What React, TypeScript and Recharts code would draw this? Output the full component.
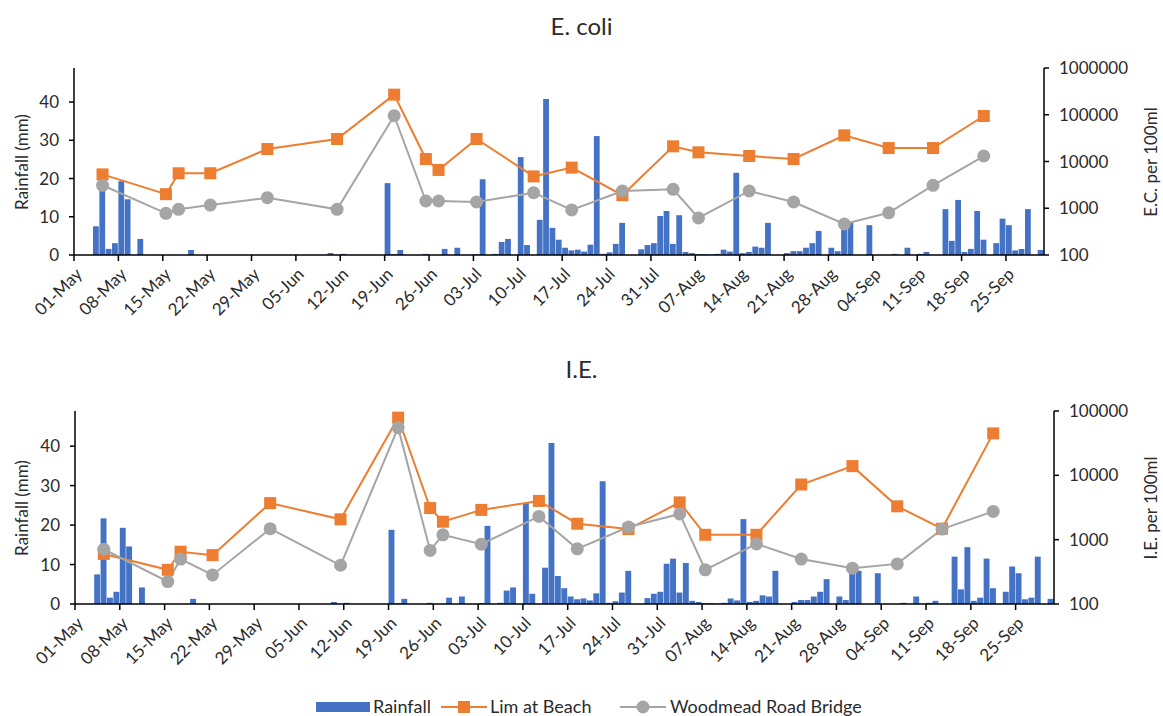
import { ComposedChart, Bar, Line, XAxis, YAxis } from "recharts";

// daily rainfall (mm), 01-May .. 30-Sep
const rainfall = [
  0, 0, 0, 7.5, 21.7, 1.6, 3.1, 19.3, 14.6, 0, 4.2, 0, 0, 0, 0, 0, 0, 0, 1.3, 0,
  0, 0, 0, 0, 0, 0, 0, 0, 0, 0, 0, 0, 0, 0, 0, 0, 0, 0, 0, 0,
  0.5, 0, 0.3, 0, 0, 0, 0, 0, 0, 18.8, 0.2, 1.3, 0, 0, 0, 0.3, 0, 0, 1.6, 0,
  1.9, 0, 0, 0.2, 19.8, 0, 0.3, 3.4, 4.2, 0, 25.6, 2.6, 0, 9.2, 40.8, 7.1, 4.0, 1.9, 1.2, 1.4,
  0.9, 2.7, 31.1, 0.3, 0.7, 2.9, 8.4, 0, 0, 1.5, 2.6, 3.1, 10.2, 11.5, 2.9, 10.4, 0.8, 0.5, 0.2, 0.2,
  0.1, 0.3, 1.4, 0.9, 21.5, 0.5, 0.8, 2.2, 1.9, 8.4, 0, 0, 0.5, 1.0, 1.0, 1.9, 3.1, 6.3, 0, 1.9,
  1.0, 8.4, 8.4, 0, 0, 7.8, 0, 0, 0, 0.3, 0, 1.9, 0, 0.3, 0.8, 0, 0, 12.0, 3.7, 14.4,
  0.8, 1.6, 11.5, 4.0, 0, 3.1, 9.5, 7.8, 1.2, 1.6, 12.0, 0, 1.3,
];

const sampleDates = [
  "05-May", "15-May", "17-May", "22-May", "31-May", "11-Jun", "20-Jun", "25-Jun", "27-Jun",
  "03-Jul", "12-Jul", "18-Jul", "26-Jul", "03-Aug", "07-Aug", "15-Aug", "22-Aug", "30-Aug",
  "06-Sep", "13-Sep", "21-Sep",
];

const ecoliLim = [5300, 2000, 5600, 5600, 18500, 30300, 269000, 11300, 6600, 30300, 4800, 7400, 1900, 21100, 15700, 13100, 11300, 36300, 19400, 19400, 94000];
const ecoliWood = [3100, 780, 950, 1170, 1680, 950, 95500, 1430, 1430, 1360, 2150, 920, 2340, 2540, 620, 2340, 1360, 460, 800, 3100, 13100];
const ieLim = [600, 340, 650, 575, 3700, 2070, 78800, 3100, 1900, 2900, 4000, 1770, 1460, 3800, 1190, 1190, 7200, 13900, 3300, 1480, 44900];
const ieWood = [710, 223, 500, 283, 1480, 400, 55100, 680, 1190, 850, 2300, 720, 1570, 2510, 340, 860, 500, 360, 420, 1460, 2750];

const tickLabels = [
  "01-May", "08-May", "15-May", "22-May", "29-May", "05-Jun", "12-Jun", "19-Jun", "26-Jun",
  "03-Jul", "10-Jul", "17-Jul", "24-Jul", "31-Jul", "07-Aug", "14-Aug", "21-Aug", "28-Aug",
  "04-Sep", "11-Sep", "18-Sep", "25-Sep",
];

const rainTicks = [0, 10, 20, 30, 40];

const BLUE = "#4472C4";
const ORANGE = "#ED7D31";
const GREY = "#A5A5A5";
const FONT = "Lato, 'Noto Sans', sans-serif";

const MONTH_START: Record<string, number> = { May: 0, Jun: 31, Jul: 61, Aug: 92, Sep: 123 };
const dayIndex = (label: string) => MONTH_START[label.slice(3)] + Number(label.slice(0, 2)) - 1;
const labelByDay: Record<number, string> = {};
tickLabels.forEach((l) => (labelByDay[dayIndex(l)] = l));

function buildRows(lim: number[], wood: number[]) {
  const rows = rainfall.map((r, i) => ({ x: i + 0.5, rain: r, lim: null as number | null, wood: null as number | null }));
  sampleDates.forEach((d, k) => {
    rows[dayIndex(d)].lim = lim[k];
    rows[dayIndex(d)].wood = wood[k];
  });
  return rows;
}

const DateTick = (props: any) => {
  const { x, y, payload } = props;
  const ax = x + 5;
  const ay = y + 10;
  return (
    <text x={ax} y={ay} dy="0.35em" textAnchor="end" fontSize={17} fill="#2b2b2b" fontFamily={FONT}
      transform={`rotate(-45 ${ax} ${ay})`}>
      {labelByDay[Math.round(payload.value)]}
    </text>
  );
};

const squareDot = (props: any) => {
  const { cx, cy, index } = props;
  if (cx == null || cy == null || props.value == null) return <g key={"s" + index} />;
  return <rect key={"s" + index} x={cx - 6} y={cy - 6} width={12} height={12} fill={ORANGE} />;
};

const circleDot = (props: any) => {
  const { cx, cy, index } = props;
  if (cx == null || cy == null || props.value == null) return <g key={"c" + index} />;
  return <circle key={"c" + index} cx={cx} cy={cy} r={6.5} fill={GREY} />;
};

interface PanelProps {
  top: number;
  title: string;
  titleTop: number;
  rightLabel: string;
  lim: number[];
  wood: number[];
  rightTicks: number[];
  marginTop: number;
  xHeight: number;
  leftWidth: number;
  rightWidth: number;
  barSize: number;
}

function Panel(p: PanelProps) {
  const rows = buildRows(p.lim, p.wood);
  const height = 340;
  const plotTop = p.top + p.marginTop;
  const plotBottom = p.top + height - p.xHeight;
  const midY = (plotTop + plotBottom) / 2;
  const axisProps = { stroke: "#000", strokeWidth: 1.5 };
  const tickStyle = { fontSize: 17, fill: "#2b2b2b", fontFamily: FONT };
  return (
    <>
      <div style={{ position: "absolute", left: 0, width: 1163, top: p.titleTop, textAlign: "center", fontSize: 24, color: "#2b2b2b", fontFamily: FONT }}>
        {p.title}
      </div>
      <div style={{ position: "absolute", left: 22 - 100, top: midY - 11, width: 200, height: 22, lineHeight: "22px", textAlign: "center", transform: "rotate(-90deg)", fontSize: 17, color: "#2b2b2b", fontFamily: FONT, whiteSpace: "nowrap" }}>
        Rainfall (mm)
      </div>
      <div style={{ position: "absolute", left: 1151 - 100, top: midY - 11, width: 200, height: 22, lineHeight: "22px", textAlign: "center", transform: "rotate(-90deg)", fontSize: 17, color: "#2b2b2b", fontFamily: FONT, whiteSpace: "nowrap" }}>
        {p.rightLabel}
      </div>
      <div style={{ position: "absolute", left: 0, top: p.top }}>
        <ComposedChart width={1163} height={height} data={rows} margin={{ top: p.marginTop, right: 0, bottom: 0, left: 0 }}>
          <XAxis xAxisId="b" dataKey="x" type="number" domain={[0, 153]} ticks={tickLabels.map(dayIndex)}
            interval={0} height={p.xHeight} tick={<DateTick />} tickSize={6} tickMargin={0}
            axisLine={axisProps} tickLine={axisProps} allowDataOverflow />
          <XAxis xAxisId="t" orientation="top" dataKey="x" type="number" domain={[0, 153]} height={0}
            tick={false} tickLine={false} axisLine={axisProps} />
          <YAxis yAxisId="l" domain={[0, 48.9]} ticks={rainTicks} width={p.leftWidth} interval={0}
            tickSize={5} tickMargin={10} axisLine={axisProps} tickLine={axisProps} allowDataOverflow
            tick={tickStyle} />
          <YAxis yAxisId="r" orientation="right" scale="log" domain={[p.rightTicks[0], p.rightTicks[p.rightTicks.length - 1]]}
            ticks={p.rightTicks} width={p.rightWidth} interval={0} tickSize={5} tickMargin={10}
            axisLine={axisProps} tickLine={axisProps} allowDataOverflow
            tick={tickStyle} />
          <Bar xAxisId="b" yAxisId="l" dataKey="rain" fill={BLUE} barSize={p.barSize} isAnimationActive={false} />
          <Line xAxisId="b" yAxisId="r" dataKey="lim" stroke={ORANGE} strokeWidth={2} connectNulls
            dot={squareDot} activeDot={false} isAnimationActive={false} />
          <Line xAxisId="b" yAxisId="r" dataKey="wood" stroke={GREY} strokeWidth={2} connectNulls
            dot={circleDot} activeDot={false} isAnimationActive={false} />
        </ComposedChart>
      </div>
    </>
  );
}

function LegendBar() {
  const text = { position: "absolute" as const, top: 695, fontSize: 18, color: "#2b2b2b", fontFamily: FONT, lineHeight: "22px", whiteSpace: "nowrap" as const };
  return (
    <>
      <svg style={{ position: "absolute", left: 0, top: 690 }} width={1163} height={26}>
        <rect x={316} y={12} width={54} height={10} fill={BLUE} />
        <line x1={441} x2={487} y1={17} y2={17} stroke={ORANGE} strokeWidth={2} />
        <rect x={458} y={11} width={12} height={12} fill={ORANGE} />
        <line x1={620} x2={666} y1={17} y2={17} stroke={GREY} strokeWidth={2} />
        <circle cx={643} cy={17} r={6.5} fill={GREY} />
      </svg>
      <div style={{ ...text, left: 373 }}>Rainfall</div>
      <div style={{ ...text, left: 490 }}>Lim at Beach</div>
      <div style={{ ...text, left: 670 }}>Woodmead Road Bridge</div>
    </>
  );
}

export default function App() {
  return (
    <div style={{ position: "absolute", left: 0, top: 0, width: 1163, height: 716, background: "#fff", overflow: "hidden" }}>
      <Panel top={0} title="E. coli" titleTop={11} rightLabel="E.C. per 100ml" lim={ecoliLim} wood={ecoliWood}
        rightTicks={[100, 1000, 10000, 100000, 1000000]} marginTop={68} xHeight={85}
        leftWidth={74} rightWidth={119} barSize={5.8} />
      <Panel top={343} title="I.E." titleTop={354} rightLabel="I.E. per 100ml" lim={ieLim} wood={ieWood}
        rightTicks={[100, 1000, 10000, 100000]} marginTop={68} xHeight={79}
        leftWidth={75} rightWidth={109} barSize={5.9} />
      <LegendBar />
    </div>
  );
}
